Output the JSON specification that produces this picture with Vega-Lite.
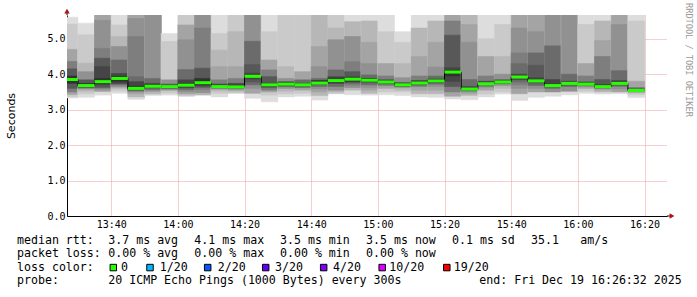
{
"$schema": "https://vega.github.io/schema/vega-lite/v6.json",
"padding": {"left": 5, "top": 3, "right": 0, "bottom": 0},
"spacing": 0,
"bounds": "flush",
"background": "#ffffff",
"datasets": {
"smoke": [
{"t":"2025-12-19T13:25:00","te":"2025-12-19T13:30:00","b":1,"lo":3.33,"hi":5.61},{"t":"2025-12-19T13:25:00","te":"2025-12-19T13:30:00","b":2,"lo":3.37,"hi":5.41},{"t":"2025-12-19T13:25:00","te":"2025-12-19T13:30:00","b":4,"lo":3.43,"hi":4.7},{"t":"2025-12-19T13:25:00","te":"2025-12-19T13:30:00","b":6,"lo":3.5,"hi":4.36},{"t":"2025-12-19T13:25:00","te":"2025-12-19T13:30:00","b":8,"lo":3.6,"hi":4.15},{"t":"2025-12-19T13:25:00","te":"2025-12-19T13:30:00","b":10,"lo":3.74,"hi":3.95},
{"t":"2025-12-19T13:30:00","te":"2025-12-19T13:35:00","b":1,"lo":3.35,"hi":5.44},{"t":"2025-12-19T13:30:00","te":"2025-12-19T13:35:00","b":2,"lo":3.45,"hi":5.11},{"t":"2025-12-19T13:30:00","te":"2025-12-19T13:35:00","b":3,"lo":3.52,"hi":4.31},{"t":"2025-12-19T13:30:00","te":"2025-12-19T13:35:00","b":5,"lo":3.58,"hi":4.07},{"t":"2025-12-19T13:30:00","te":"2025-12-19T13:35:00","b":8,"lo":3.62,"hi":3.84},{"t":"2025-12-19T13:30:00","te":"2025-12-19T13:35:00","b":10,"lo":3.65,"hi":3.74},
{"t":"2025-12-19T13:35:00","te":"2025-12-19T13:40:00","b":1,"lo":3.41,"hi":5.7},{"t":"2025-12-19T13:35:00","te":"2025-12-19T13:40:00","b":4,"lo":3.51,"hi":5.7},{"t":"2025-12-19T13:35:00","te":"2025-12-19T13:40:00","b":5,"lo":3.56,"hi":5.52},{"t":"2025-12-19T13:35:00","te":"2025-12-19T13:40:00","b":6,"lo":3.6,"hi":4.73},{"t":"2025-12-19T13:35:00","te":"2025-12-19T13:40:00","b":8,"lo":3.63,"hi":4.45},{"t":"2025-12-19T13:35:00","te":"2025-12-19T13:40:00","b":9,"lo":3.7,"hi":4.21},{"t":"2025-12-19T13:35:00","te":"2025-12-19T13:40:00","b":10,"lo":3.74,"hi":3.88},
{"t":"2025-12-19T13:40:00","te":"2025-12-19T13:45:00","b":1,"lo":3.46,"hi":5.7},{"t":"2025-12-19T13:40:00","te":"2025-12-19T13:45:00","b":2,"lo":3.53,"hi":5.39},{"t":"2025-12-19T13:40:00","te":"2025-12-19T13:45:00","b":3,"lo":3.6,"hi":5.06},{"t":"2025-12-19T13:40:00","te":"2025-12-19T13:45:00","b":5,"lo":3.64,"hi":4.78},{"t":"2025-12-19T13:40:00","te":"2025-12-19T13:45:00","b":7,"lo":3.7,"hi":4.4},{"t":"2025-12-19T13:40:00","te":"2025-12-19T13:45:00","b":9,"lo":3.74,"hi":4.02},{"t":"2025-12-19T13:40:00","te":"2025-12-19T13:45:00","b":10,"lo":3.8,"hi":3.93},
{"t":"2025-12-19T13:45:00","te":"2025-12-19T13:50:00","b":1,"lo":3.29,"hi":5.7},{"t":"2025-12-19T13:45:00","te":"2025-12-19T13:50:00","b":3,"lo":3.36,"hi":5.7},{"t":"2025-12-19T13:45:00","te":"2025-12-19T13:50:00","b":4,"lo":3.45,"hi":5.7},{"t":"2025-12-19T13:45:00","te":"2025-12-19T13:50:00","b":5,"lo":3.5,"hi":5.57},{"t":"2025-12-19T13:45:00","te":"2025-12-19T13:50:00","b":6,"lo":3.52,"hi":5.06},{"t":"2025-12-19T13:45:00","te":"2025-12-19T13:50:00","b":7,"lo":3.54,"hi":3.93},{"t":"2025-12-19T13:45:00","te":"2025-12-19T13:50:00","b":9,"lo":3.56,"hi":3.79},{"t":"2025-12-19T13:45:00","te":"2025-12-19T13:50:00","b":10,"lo":3.58,"hi":3.66},
{"t":"2025-12-19T13:50:00","te":"2025-12-19T13:55:00","b":1,"lo":3.4,"hi":5.7},{"t":"2025-12-19T13:50:00","te":"2025-12-19T13:55:00","b":3,"lo":3.44,"hi":5.7},{"t":"2025-12-19T13:50:00","te":"2025-12-19T13:55:00","b":5,"lo":3.52,"hi":5.7},{"t":"2025-12-19T13:50:00","te":"2025-12-19T13:55:00","b":7,"lo":3.57,"hi":3.88},{"t":"2025-12-19T13:50:00","te":"2025-12-19T13:55:00","b":9,"lo":3.62,"hi":3.74},{"t":"2025-12-19T13:50:00","te":"2025-12-19T13:55:00","b":10,"lo":3.64,"hi":3.7},
{"t":"2025-12-19T13:55:00","te":"2025-12-19T14:00:00","b":1,"lo":3.41,"hi":5.15},{"t":"2025-12-19T13:55:00","te":"2025-12-19T14:00:00","b":2,"lo":3.47,"hi":4.92},{"t":"2025-12-19T13:55:00","te":"2025-12-19T14:00:00","b":5,"lo":3.55,"hi":3.84},{"t":"2025-12-19T13:55:00","te":"2025-12-19T14:00:00","b":8,"lo":3.6,"hi":3.72},{"t":"2025-12-19T13:55:00","te":"2025-12-19T14:00:00","b":10,"lo":3.63,"hi":3.68},
{"t":"2025-12-19T14:00:00","te":"2025-12-19T14:05:00","b":2,"lo":3.38,"hi":5.7},{"t":"2025-12-19T14:00:00","te":"2025-12-19T14:05:00","b":4,"lo":3.44,"hi":5.39},{"t":"2025-12-19T14:00:00","te":"2025-12-19T14:05:00","b":5,"lo":3.5,"hi":4.97},{"t":"2025-12-19T14:00:00","te":"2025-12-19T14:05:00","b":7,"lo":3.56,"hi":4.13},{"t":"2025-12-19T14:00:00","te":"2025-12-19T14:05:00","b":9,"lo":3.62,"hi":3.84},{"t":"2025-12-19T14:00:00","te":"2025-12-19T14:05:00","b":10,"lo":3.66,"hi":3.74},
{"t":"2025-12-19T14:05:00","te":"2025-12-19T14:10:00","b":3,"lo":3.41,"hi":5.7},{"t":"2025-12-19T14:05:00","te":"2025-12-19T14:10:00","b":5,"lo":3.48,"hi":5.7},{"t":"2025-12-19T14:05:00","te":"2025-12-19T14:10:00","b":6,"lo":3.57,"hi":5.3},{"t":"2025-12-19T14:05:00","te":"2025-12-19T14:10:00","b":8,"lo":3.63,"hi":4.17},{"t":"2025-12-19T14:05:00","te":"2025-12-19T14:10:00","b":10,"lo":3.69,"hi":3.88},
{"t":"2025-12-19T14:10:00","te":"2025-12-19T14:15:00","b":1,"lo":3.36,"hi":5.7},{"t":"2025-12-19T14:10:00","te":"2025-12-19T14:15:00","b":2,"lo":3.46,"hi":5.15},{"t":"2025-12-19T14:10:00","te":"2025-12-19T14:15:00","b":3,"lo":3.53,"hi":4.68},{"t":"2025-12-19T14:10:00","te":"2025-12-19T14:15:00","b":4,"lo":3.57,"hi":4.21},{"t":"2025-12-19T14:10:00","te":"2025-12-19T14:15:00","b":6,"lo":3.6,"hi":3.84},{"t":"2025-12-19T14:10:00","te":"2025-12-19T14:15:00","b":9,"lo":3.62,"hi":3.72},
{"t":"2025-12-19T14:15:00","te":"2025-12-19T14:20:00","b":2,"lo":3.46,"hi":5.7},{"t":"2025-12-19T14:15:00","te":"2025-12-19T14:20:00","b":3,"lo":3.52,"hi":5.2},{"t":"2025-12-19T14:15:00","te":"2025-12-19T14:20:00","b":4,"lo":3.55,"hi":4.21},{"t":"2025-12-19T14:15:00","te":"2025-12-19T14:20:00","b":6,"lo":3.58,"hi":3.88},{"t":"2025-12-19T14:15:00","te":"2025-12-19T14:20:00","b":9,"lo":3.61,"hi":3.74},
{"t":"2025-12-19T14:20:00","te":"2025-12-19T14:25:00","b":1,"lo":3.32,"hi":5.7},{"t":"2025-12-19T14:20:00","te":"2025-12-19T14:25:00","b":4,"lo":3.46,"hi":5.7},{"t":"2025-12-19T14:20:00","te":"2025-12-19T14:25:00","b":5,"lo":3.6,"hi":5.7},{"t":"2025-12-19T14:20:00","te":"2025-12-19T14:25:00","b":7,"lo":3.7,"hi":4.93},{"t":"2025-12-19T14:20:00","te":"2025-12-19T14:25:00","b":8,"lo":3.78,"hi":4.27},{"t":"2025-12-19T14:20:00","te":"2025-12-19T14:25:00","b":9,"lo":3.86,"hi":4.03},
{"t":"2025-12-19T14:25:00","te":"2025-12-19T14:30:00","b":1,"lo":3.22,"hi":5.7},{"t":"2025-12-19T14:25:00","te":"2025-12-19T14:30:00","b":2,"lo":3.41,"hi":5.2},{"t":"2025-12-19T14:25:00","te":"2025-12-19T14:30:00","b":4,"lo":3.5,"hi":4.4},{"t":"2025-12-19T14:25:00","te":"2025-12-19T14:30:00","b":6,"lo":3.55,"hi":4.12},{"t":"2025-12-19T14:25:00","te":"2025-12-19T14:30:00","b":8,"lo":3.62,"hi":3.93},{"t":"2025-12-19T14:25:00","te":"2025-12-19T14:30:00","b":10,"lo":3.66,"hi":3.74},
{"t":"2025-12-19T14:30:00","te":"2025-12-19T14:35:00","b":1,"lo":3.36,"hi":5.7},{"t":"2025-12-19T14:30:00","te":"2025-12-19T14:35:00","b":2,"lo":3.44,"hi":5.7},{"t":"2025-12-19T14:30:00","te":"2025-12-19T14:35:00","b":3,"lo":3.52,"hi":4.21},{"t":"2025-12-19T14:30:00","te":"2025-12-19T14:35:00","b":5,"lo":3.6,"hi":3.88},{"t":"2025-12-19T14:30:00","te":"2025-12-19T14:35:00","b":8,"lo":3.66,"hi":3.79},{"t":"2025-12-19T14:30:00","te":"2025-12-19T14:35:00","b":10,"lo":3.69,"hi":3.76},
{"t":"2025-12-19T14:35:00","te":"2025-12-19T14:40:00","b":1,"lo":3.38,"hi":5.7},{"t":"2025-12-19T14:35:00","te":"2025-12-19T14:40:00","b":2,"lo":3.46,"hi":5.7},{"t":"2025-12-19T14:35:00","te":"2025-12-19T14:40:00","b":4,"lo":3.55,"hi":4.07},{"t":"2025-12-19T14:35:00","te":"2025-12-19T14:40:00","b":7,"lo":3.62,"hi":3.84},{"t":"2025-12-19T14:35:00","te":"2025-12-19T14:40:00","b":10,"lo":3.67,"hi":3.74},
{"t":"2025-12-19T14:40:00","te":"2025-12-19T14:45:00","b":1,"lo":3.27,"hi":5.7},{"t":"2025-12-19T14:40:00","te":"2025-12-19T14:45:00","b":3,"lo":3.4,"hi":5.7},{"t":"2025-12-19T14:40:00","te":"2025-12-19T14:45:00","b":4,"lo":3.5,"hi":4.78},{"t":"2025-12-19T14:40:00","te":"2025-12-19T14:45:00","b":5,"lo":3.58,"hi":4.21},{"t":"2025-12-19T14:40:00","te":"2025-12-19T14:45:00","b":7,"lo":3.65,"hi":3.88},{"t":"2025-12-19T14:40:00","te":"2025-12-19T14:45:00","b":10,"lo":3.72,"hi":3.82},
{"t":"2025-12-19T14:45:00","te":"2025-12-19T14:50:00","b":2,"lo":3.45,"hi":5.7},{"t":"2025-12-19T14:45:00","te":"2025-12-19T14:50:00","b":3,"lo":3.5,"hi":5.3},{"t":"2025-12-19T14:45:00","te":"2025-12-19T14:50:00","b":5,"lo":3.55,"hi":4.97},{"t":"2025-12-19T14:45:00","te":"2025-12-19T14:50:00","b":7,"lo":3.65,"hi":4.12},{"t":"2025-12-19T14:45:00","te":"2025-12-19T14:50:00","b":9,"lo":3.74,"hi":3.93},{"t":"2025-12-19T14:45:00","te":"2025-12-19T14:50:00","b":10,"lo":3.78,"hi":3.86},
{"t":"2025-12-19T14:50:00","te":"2025-12-19T14:55:00","b":1,"lo":3.42,"hi":5.7},{"t":"2025-12-19T14:50:00","te":"2025-12-19T14:55:00","b":3,"lo":3.55,"hi":5.48},{"t":"2025-12-19T14:50:00","te":"2025-12-19T14:55:00","b":5,"lo":3.62,"hi":5.06},{"t":"2025-12-19T14:50:00","te":"2025-12-19T14:55:00","b":6,"lo":3.69,"hi":4.35},{"t":"2025-12-19T14:50:00","te":"2025-12-19T14:55:00","b":8,"lo":3.75,"hi":4.07},{"t":"2025-12-19T14:50:00","te":"2025-12-19T14:55:00","b":10,"lo":3.8,"hi":3.92},
{"t":"2025-12-19T14:55:00","te":"2025-12-19T15:00:00","b":1,"lo":3.41,"hi":5.7},{"t":"2025-12-19T14:55:00","te":"2025-12-19T15:00:00","b":3,"lo":3.46,"hi":5.5},{"t":"2025-12-19T14:55:00","te":"2025-12-19T15:00:00","b":4,"lo":3.55,"hi":4.9},{"t":"2025-12-19T14:55:00","te":"2025-12-19T15:00:00","b":5,"lo":3.62,"hi":4.3},{"t":"2025-12-19T14:55:00","te":"2025-12-19T15:00:00","b":7,"lo":3.7,"hi":3.98},{"t":"2025-12-19T14:55:00","te":"2025-12-19T15:00:00","b":10,"lo":3.78,"hi":3.88},
{"t":"2025-12-19T15:00:00","te":"2025-12-19T15:05:00","b":1,"lo":3.42,"hi":5.7},{"t":"2025-12-19T15:00:00","te":"2025-12-19T15:05:00","b":2,"lo":3.5,"hi":5.2},{"t":"2025-12-19T15:00:00","te":"2025-12-19T15:05:00","b":4,"lo":3.6,"hi":4.3},{"t":"2025-12-19T15:00:00","te":"2025-12-19T15:05:00","b":6,"lo":3.68,"hi":3.95},{"t":"2025-12-19T15:00:00","te":"2025-12-19T15:05:00","b":9,"lo":3.73,"hi":3.84},
{"t":"2025-12-19T15:05:00","te":"2025-12-19T15:10:00","b":1,"lo":3.4,"hi":5.2},{"t":"2025-12-19T15:05:00","te":"2025-12-19T15:10:00","b":2,"lo":3.5,"hi":4.9},{"t":"2025-12-19T15:05:00","te":"2025-12-19T15:10:00","b":3,"lo":3.55,"hi":4.3},{"t":"2025-12-19T15:05:00","te":"2025-12-19T15:10:00","b":5,"lo":3.62,"hi":3.9},{"t":"2025-12-19T15:05:00","te":"2025-12-19T15:10:00","b":9,"lo":3.66,"hi":3.76},
{"t":"2025-12-19T15:10:00","te":"2025-12-19T15:15:00","b":1,"lo":3.36,"hi":5.7},{"t":"2025-12-19T15:10:00","te":"2025-12-19T15:15:00","b":3,"lo":3.45,"hi":5.3},{"t":"2025-12-19T15:10:00","te":"2025-12-19T15:15:00","b":4,"lo":3.55,"hi":4.5},{"t":"2025-12-19T15:10:00","te":"2025-12-19T15:15:00","b":6,"lo":3.65,"hi":3.95},{"t":"2025-12-19T15:10:00","te":"2025-12-19T15:15:00","b":9,"lo":3.7,"hi":3.82},
{"t":"2025-12-19T15:15:00","te":"2025-12-19T15:20:00","b":1,"lo":3.35,"hi":5.7},{"t":"2025-12-19T15:15:00","te":"2025-12-19T15:20:00","b":3,"lo":3.45,"hi":5.5},{"t":"2025-12-19T15:15:00","te":"2025-12-19T15:20:00","b":4,"lo":3.55,"hi":4.9},{"t":"2025-12-19T15:15:00","te":"2025-12-19T15:20:00","b":5,"lo":3.65,"hi":4.2},{"t":"2025-12-19T15:15:00","te":"2025-12-19T15:20:00","b":7,"lo":3.72,"hi":3.95},{"t":"2025-12-19T15:15:00","te":"2025-12-19T15:20:00","b":10,"lo":3.77,"hi":3.86},
{"t":"2025-12-19T15:20:00","te":"2025-12-19T15:25:00","b":1,"lo":3.3,"hi":5.7},{"t":"2025-12-19T15:20:00","te":"2025-12-19T15:25:00","b":4,"lo":3.38,"hi":5.7},{"t":"2025-12-19T15:20:00","te":"2025-12-19T15:25:00","b":6,"lo":3.5,"hi":5.5},{"t":"2025-12-19T15:20:00","te":"2025-12-19T15:25:00","b":8,"lo":3.65,"hi":5.1},{"t":"2025-12-19T15:20:00","te":"2025-12-19T15:25:00","b":9,"lo":3.8,"hi":4.18},{"t":"2025-12-19T15:20:00","te":"2025-12-19T15:25:00","b":10,"lo":3.95,"hi":4.1},
{"t":"2025-12-19T15:25:00","te":"2025-12-19T15:30:00","b":1,"lo":3.28,"hi":5.7},{"t":"2025-12-19T15:25:00","te":"2025-12-19T15:30:00","b":3,"lo":3.4,"hi":5.7},{"t":"2025-12-19T15:25:00","te":"2025-12-19T15:30:00","b":4,"lo":3.45,"hi":5.4},{"t":"2025-12-19T15:25:00","te":"2025-12-19T15:30:00","b":5,"lo":3.5,"hi":4.9},{"t":"2025-12-19T15:25:00","te":"2025-12-19T15:30:00","b":7,"lo":3.53,"hi":3.85},{"t":"2025-12-19T15:25:00","te":"2025-12-19T15:30:00","b":9,"lo":3.55,"hi":3.65},
{"t":"2025-12-19T15:30:00","te":"2025-12-19T15:35:00","b":1,"lo":3.36,"hi":5.7},{"t":"2025-12-19T15:30:00","te":"2025-12-19T15:35:00","b":2,"lo":3.44,"hi":5.0},{"t":"2025-12-19T15:30:00","te":"2025-12-19T15:35:00","b":4,"lo":3.55,"hi":4.5},{"t":"2025-12-19T15:30:00","te":"2025-12-19T15:35:00","b":6,"lo":3.64,"hi":3.95},{"t":"2025-12-19T15:30:00","te":"2025-12-19T15:35:00","b":9,"lo":3.7,"hi":3.8},
{"t":"2025-12-19T15:35:00","te":"2025-12-19T15:40:00","b":1,"lo":3.44,"hi":5.7},{"t":"2025-12-19T15:35:00","te":"2025-12-19T15:40:00","b":2,"lo":3.5,"hi":5.4},{"t":"2025-12-19T15:35:00","te":"2025-12-19T15:40:00","b":3,"lo":3.6,"hi":4.5},{"t":"2025-12-19T15:35:00","te":"2025-12-19T15:40:00","b":5,"lo":3.68,"hi":4.0},{"t":"2025-12-19T15:35:00","te":"2025-12-19T15:40:00","b":9,"lo":3.74,"hi":3.84},
{"t":"2025-12-19T15:40:00","te":"2025-12-19T15:45:00","b":1,"lo":3.26,"hi":5.7},{"t":"2025-12-19T15:40:00","te":"2025-12-19T15:45:00","b":4,"lo":3.45,"hi":5.7},{"t":"2025-12-19T15:40:00","te":"2025-12-19T15:45:00","b":5,"lo":3.6,"hi":5.3},{"t":"2025-12-19T15:40:00","te":"2025-12-19T15:45:00","b":6,"lo":3.7,"hi":4.6},{"t":"2025-12-19T15:40:00","te":"2025-12-19T15:45:00","b":7,"lo":3.78,"hi":4.3},{"t":"2025-12-19T15:40:00","te":"2025-12-19T15:45:00","b":9,"lo":3.85,"hi":4.0},
{"t":"2025-12-19T15:45:00","te":"2025-12-19T15:50:00","b":1,"lo":3.35,"hi":5.7},{"t":"2025-12-19T15:45:00","te":"2025-12-19T15:50:00","b":4,"lo":3.5,"hi":5.7},{"t":"2025-12-19T15:45:00","te":"2025-12-19T15:50:00","b":5,"lo":3.6,"hi":5.2},{"t":"2025-12-19T15:45:00","te":"2025-12-19T15:50:00","b":7,"lo":3.68,"hi":4.6},{"t":"2025-12-19T15:45:00","te":"2025-12-19T15:50:00","b":8,"lo":3.75,"hi":4.25},{"t":"2025-12-19T15:45:00","te":"2025-12-19T15:50:00","b":9,"lo":3.78,"hi":3.9},
{"t":"2025-12-19T15:50:00","te":"2025-12-19T15:55:00","b":1,"lo":3.38,"hi":5.7},{"t":"2025-12-19T15:50:00","te":"2025-12-19T15:55:00","b":5,"lo":3.5,"hi":5.7},{"t":"2025-12-19T15:50:00","te":"2025-12-19T15:55:00","b":7,"lo":3.6,"hi":4.8},{"t":"2025-12-19T15:50:00","te":"2025-12-19T15:55:00","b":9,"lo":3.65,"hi":3.85},{"t":"2025-12-19T15:50:00","te":"2025-12-19T15:55:00","b":10,"lo":3.66,"hi":3.72},
{"t":"2025-12-19T15:55:00","te":"2025-12-19T16:00:00","b":1,"lo":3.42,"hi":5.7},{"t":"2025-12-19T15:55:00","te":"2025-12-19T16:00:00","b":5,"lo":3.52,"hi":5.7},{"t":"2025-12-19T15:55:00","te":"2025-12-19T16:00:00","b":7,"lo":3.65,"hi":4.0},{"t":"2025-12-19T15:55:00","te":"2025-12-19T16:00:00","b":9,"lo":3.7,"hi":3.8},
{"t":"2025-12-19T16:00:00","te":"2025-12-19T16:05:00","b":1,"lo":3.46,"hi":5.7},{"t":"2025-12-19T16:00:00","te":"2025-12-19T16:05:00","b":2,"lo":3.52,"hi":5.4},{"t":"2025-12-19T16:00:00","te":"2025-12-19T16:05:00","b":4,"lo":3.6,"hi":4.3},{"t":"2025-12-19T16:00:00","te":"2025-12-19T16:05:00","b":6,"lo":3.66,"hi":3.95},{"t":"2025-12-19T16:00:00","te":"2025-12-19T16:05:00","b":9,"lo":3.7,"hi":3.78},
{"t":"2025-12-19T16:05:00","te":"2025-12-19T16:10:00","b":1,"lo":3.44,"hi":5.7},{"t":"2025-12-19T16:05:00","te":"2025-12-19T16:10:00","b":3,"lo":3.5,"hi":5.5},{"t":"2025-12-19T16:05:00","te":"2025-12-19T16:10:00","b":4,"lo":3.55,"hi":4.95},{"t":"2025-12-19T16:05:00","te":"2025-12-19T16:10:00","b":6,"lo":3.6,"hi":4.5},{"t":"2025-12-19T16:05:00","te":"2025-12-19T16:10:00","b":8,"lo":3.62,"hi":3.85},{"t":"2025-12-19T16:05:00","te":"2025-12-19T16:10:00","b":10,"lo":3.63,"hi":3.7},
{"t":"2025-12-19T16:10:00","te":"2025-12-19T16:15:00","b":1,"lo":3.45,"hi":5.7},{"t":"2025-12-19T16:10:00","te":"2025-12-19T16:15:00","b":4,"lo":3.5,"hi":5.7},{"t":"2025-12-19T16:10:00","te":"2025-12-19T16:15:00","b":5,"lo":3.58,"hi":5.4},{"t":"2025-12-19T16:10:00","te":"2025-12-19T16:15:00","b":7,"lo":3.66,"hi":4.1},{"t":"2025-12-19T16:10:00","te":"2025-12-19T16:15:00","b":9,"lo":3.7,"hi":3.82},
{"t":"2025-12-19T16:15:00","te":"2025-12-19T16:20:00","b":1,"lo":3.34,"hi":5.7},{"t":"2025-12-19T16:15:00","te":"2025-12-19T16:20:00","b":2,"lo":3.42,"hi":5.5},{"t":"2025-12-19T16:15:00","te":"2025-12-19T16:20:00","b":4,"lo":3.48,"hi":3.8},{"t":"2025-12-19T16:15:00","te":"2025-12-19T16:20:00","b":7,"lo":3.52,"hi":3.62}
],
"median": [
{"t":"2025-12-19T13:25:00","te":"2025-12-19T13:30:00","m":3.85,"loss":"0"},{"t":"2025-12-19T13:30:00","te":"2025-12-19T13:35:00","m":3.68,"loss":"0"},{"t":"2025-12-19T13:35:00","te":"2025-12-19T13:40:00","m":3.79,"loss":"0"},{"t":"2025-12-19T13:40:00","te":"2025-12-19T13:45:00","m":3.88,"loss":"0"},{"t":"2025-12-19T13:45:00","te":"2025-12-19T13:50:00","m":3.60,"loss":"0"},{"t":"2025-12-19T13:50:00","te":"2025-12-19T13:55:00","m":3.66,"loss":"0"},{"t":"2025-12-19T13:55:00","te":"2025-12-19T14:00:00","m":3.65,"loss":"0"},{"t":"2025-12-19T14:00:00","te":"2025-12-19T14:05:00","m":3.69,"loss":"0"},{"t":"2025-12-19T14:05:00","te":"2025-12-19T14:10:00","m":3.76,"loss":"0"},{"t":"2025-12-19T14:10:00","te":"2025-12-19T14:15:00","m":3.65,"loss":"0"},{"t":"2025-12-19T14:15:00","te":"2025-12-19T14:20:00","m":3.64,"loss":"0"},{"t":"2025-12-19T14:20:00","te":"2025-12-19T14:25:00","m":3.94,"loss":"0"},{"t":"2025-12-19T14:25:00","te":"2025-12-19T14:30:00","m":3.70,"loss":"0"},{"t":"2025-12-19T14:30:00","te":"2025-12-19T14:35:00","m":3.72,"loss":"0"},{"t":"2025-12-19T14:35:00","te":"2025-12-19T14:40:00","m":3.70,"loss":"0"},{"t":"2025-12-19T14:40:00","te":"2025-12-19T14:45:00","m":3.75,"loss":"0"},{"t":"2025-12-19T14:45:00","te":"2025-12-19T14:50:00","m":3.82,"loss":"0"},{"t":"2025-12-19T14:50:00","te":"2025-12-19T14:55:00","m":3.86,"loss":"0"},{"t":"2025-12-19T14:55:00","te":"2025-12-19T15:00:00","m":3.83,"loss":"0"},{"t":"2025-12-19T15:00:00","te":"2025-12-19T15:05:00","m":3.78,"loss":"0"},{"t":"2025-12-19T15:05:00","te":"2025-12-19T15:10:00","m":3.70,"loss":"0"},{"t":"2025-12-19T15:10:00","te":"2025-12-19T15:15:00","m":3.75,"loss":"0"},{"t":"2025-12-19T15:15:00","te":"2025-12-19T15:20:00","m":3.81,"loss":"0"},{"t":"2025-12-19T15:20:00","te":"2025-12-19T15:25:00","m":4.06,"loss":"0"},{"t":"2025-12-19T15:25:00","te":"2025-12-19T15:30:00","m":3.58,"loss":"0"},{"t":"2025-12-19T15:30:00","te":"2025-12-19T15:35:00","m":3.73,"loss":"0"},{"t":"2025-12-19T15:35:00","te":"2025-12-19T15:40:00","m":3.78,"loss":"0"},{"t":"2025-12-19T15:40:00","te":"2025-12-19T15:45:00","m":3.92,"loss":"0"},{"t":"2025-12-19T15:45:00","te":"2025-12-19T15:50:00","m":3.81,"loss":"0"},{"t":"2025-12-19T15:50:00","te":"2025-12-19T15:55:00","m":3.68,"loss":"0"},{"t":"2025-12-19T15:55:00","te":"2025-12-19T16:00:00","m":3.74,"loss":"0"},{"t":"2025-12-19T16:00:00","te":"2025-12-19T16:05:00","m":3.72,"loss":"0"},{"t":"2025-12-19T16:05:00","te":"2025-12-19T16:10:00","m":3.65,"loss":"0"},{"t":"2025-12-19T16:10:00","te":"2025-12-19T16:15:00","m":3.74,"loss":"0"},{"t":"2025-12-19T16:15:00","te":"2025-12-19T16:20:00","m":3.54,"loss":"0"}
],
"arrows": [
{"t":"2025-12-19T13:26:44","v":5.78,"dir":"up"},{"t":"2025-12-19T16:28:14","v":0,"dir":"right"}
],
"axisext": [
{"t":"2025-12-19T13:26:44","t2":"2025-12-19T13:26:44","v":5.67,"v2":5.74},{"t":"2025-12-19T16:26:44","t2":"2025-12-19T16:27:44","v":0,"v2":0}
],
"notes": [
{"line":0,"col":0,"txt":"median rtt:"},{"line":0,"col":13.04,"txt":"3.7 ms avg"},{"line":0,"col":25.33,"txt":"4.1 ms max"},{"line":0,"col":37.57,"txt":"3.5 ms min"},{"line":0,"col":49.86,"txt":"3.5 ms now"},{"line":0,"col":62.14,"txt":"0.1 ms sd"},{"line":0,"col":73.43,"txt":"35.1"},{"line":0,"col":80.47,"txt":"am/s"},
{"line":1,"col":0,"txt":"packet loss:"},{"line":1,"col":13.04,"txt":"0.00 % avg"},{"line":1,"col":25.33,"txt":"0.00 % max"},{"line":1,"col":37.57,"txt":"0.00 % min"},{"line":1,"col":49.86,"txt":"0.00 % now"},
{"line":2,"col":0,"txt":"loss color:"},{"line":2,"col":14.86,"txt":"0"},{"line":2,"col":20.39,"txt":"1/20"},{"line":2,"col":28.67,"txt":"2/20"},{"line":2,"col":36.86,"txt":"3/20"},{"line":2,"col":45.14,"txt":"4/20"},{"line":2,"col":53.19,"txt":"10/20"},{"line":2,"col":62.39,"txt":"19/20"},
{"line":3,"col":0,"txt":"probe:"},{"line":3,"col":13.04,"txt":"20 ICMP Echo Pings (1000 Bytes) every 300s"},{"line":3,"col":66.04,"txt":"end: Fri Dec 19 16:26:32 2025"}
],
"credit": [
{"line":-13.46,"col":96,"txt":"RRDTOOL / TOBI OETIKER"}
],
"losskey": [
{"line":2,"col":13.76,"loss":"0"},{"line":2,"col":19.0,"loss":"1/20"},{"line":2,"col":27.24,"loss":"2/20"},{"line":2,"col":35.53,"loss":"3/20"},{"line":2,"col":43.81,"loss":"4/20"},{"line":2,"col":52.17,"loss":"10/20"},{"line":2,"col":61.4,"loss":"19/20"}
]
},
"vconcat": [
{
"width": 600, "height": 201,
"layer": [
{
"data": {"name": "smoke"},
"mark": {"type": "bar", "strokeWidth": 0.6, "clip": true},
"encoding": {
"x": {"field": "t", "type": "temporal", "title": null,
"scale": {"domain": [{"year": 2025, "month": 12, "date": 19, "hours": 13, "minutes": 26, "seconds": 44}, {"year": 2025, "month": 12, "date": 19, "hours": 16, "minutes": 26, "seconds": 44}]},
"axis": {"format": "%H:%M",
"values": [{"year": 2025, "month": 12, "date": 19, "hours": 13, "minutes": 40}, {"year": 2025, "month": 12, "date": 19, "hours": 14, "minutes": 0}, {"year": 2025, "month": 12, "date": 19, "hours": 14, "minutes": 20}, {"year": 2025, "month": 12, "date": 19, "hours": 14, "minutes": 40}, {"year": 2025, "month": 12, "date": 19, "hours": 15, "minutes": 0}, {"year": 2025, "month": 12, "date": 19, "hours": 15, "minutes": 20}, {"year": 2025, "month": 12, "date": 19, "hours": 15, "minutes": 40}, {"year": 2025, "month": 12, "date": 19, "hours": 16, "minutes": 0}, {"year": 2025, "month": 12, "date": 19, "hours": 16, "minutes": 20}],
"grid": true, "gridDash": [1, 1], "gridColor": "#e8a0a0",
"ticks": false, "domainColor": "#000000",
"labelFont": "DejaVu Sans Mono", "labelFontSize": 10, "labelColor": "#000000", "labelPadding": 3}},
"x2": {"field": "te"},
"y": {"field": "lo", "type": "quantitative", "title": "Seconds",
"scale": {"domain": [0, 5.67], "nice": false, "zero": false},
"axis": {"values": [0, 1, 2, 3, 4, 5], "format": ".1f",
"grid": true, "gridDash": [1, 1], "gridColor": "#e8a0a0",
"ticks": false, "domainColor": "#000000",
"labelFont": "DejaVu Sans Mono", "labelFontSize": 10, "labelColor": "#000000",
"titleFont": "DejaVu Sans", "titleFontSize": 11, "titleFontWeight": "normal", "titleColor": "#000000", "titlePadding": 30}},
"y2": {"field": "hi"},
"fill": {"field": "b", "type": "ordinal", "scale": {"domain": [1,2,3,4,5,6,7,8,9,10], "range": ["#dddddd","#cacaca","#b7b7b7","#a4a4a4","#919191","#7e7e7e","#6b6b6b","#585858","#454545","#323232"]}, "legend": null},
"stroke": {"field": "b", "type": "ordinal", "scale": {"domain": [1,2,3,4,5,6,7,8,9,10], "range": ["#dddddd","#cacaca","#b7b7b7","#a4a4a4","#919191","#7e7e7e","#6b6b6b","#585858","#454545","#323232"]}, "legend": null}
}
},
{
"data": {"name": "median"},
"mark": {"type": "line", "interpolate": "step-after", "color": "#000000", "strokeWidth": 1, "clip": true},
"encoding": {
"x": {"field": "t", "type": "temporal", "title": null, "scale": {"domain": [{"year": 2025, "month": 12, "date": 19, "hours": 13, "minutes": 26, "seconds": 44}, {"year": 2025, "month": 12, "date": 19, "hours": 16, "minutes": 26, "seconds": 44}]}},
"y": {"field": "m", "type": "quantitative", "title": "Seconds", "scale": {"domain": [0, 5.67], "nice": false, "zero": false}}
}
},
{
"data": {"name": "median"},
"mark": {"type": "rule", "strokeWidth": 3, "clip": true},
"encoding": {
"x": {"field": "t", "type": "temporal", "title": null, "scale": {"domain": [{"year": 2025, "month": 12, "date": 19, "hours": 13, "minutes": 26, "seconds": 44}, {"year": 2025, "month": 12, "date": 19, "hours": 16, "minutes": 26, "seconds": 44}]}},
"x2": {"field": "te"},
"y": {"field": "m", "type": "quantitative", "title": "Seconds", "scale": {"domain": [0, 5.67], "nice": false, "zero": false}},
"color": {"field": "loss", "type": "nominal",
"scale": {"domain": ["0","1/20","2/20","3/20","4/20","10/20","19/20"], "range": ["#26ff00","#00b8ff","#0059ff","#5e00ff","#7e00ff","#dd00ff","#ff0000"]},
"legend": null}
}
},
{
"data": {"name": "axisext"},
"mark": {"type": "rule", "color": "#000000", "strokeWidth": 1},
"encoding": {
"x": {"field": "t", "type": "temporal", "title": null, "scale": {"domain": [{"year": 2025, "month": 12, "date": 19, "hours": 13, "minutes": 26, "seconds": 44}, {"year": 2025, "month": 12, "date": 19, "hours": 16, "minutes": 26, "seconds": 44}]}},
"x2": {"field": "t2"},
"y": {"field": "v", "type": "quantitative", "title": "Seconds", "scale": {"domain": [0, 5.67], "nice": false, "zero": false}},
"y2": {"field": "v2"}
}
},
{
"data": {"name": "arrows"},
"mark": {"type": "point", "filled": true, "size": 30, "color": "#b01010", "opacity": 1},
"encoding": {
"x": {"field": "t", "type": "temporal", "title": null, "scale": {"domain": [{"year": 2025, "month": 12, "date": 19, "hours": 13, "minutes": 26, "seconds": 44}, {"year": 2025, "month": 12, "date": 19, "hours": 16, "minutes": 26, "seconds": 44}]}},
"y": {"field": "v", "type": "quantitative", "title": "Seconds", "scale": {"domain": [0, 5.67], "nice": false, "zero": false}},
"shape": {"field": "dir", "type": "nominal", "scale": {"domain": ["up", "right"], "range": ["triangle-up", "triangle-right"]}, "legend": null}
}
}
]
},
{
"width": 600, "height": 80,
"layer": [
{
"data": {"name": "losskey"},
"mark": {"type": "point", "shape": "square", "filled": true, "size": 42, "stroke": "#000000", "strokeWidth": 1, "opacity": 1},
"encoding": {
"x": {"field": "col", "type": "quantitative", "scale": {"domain": [7.143, 92.857], "nice": false, "zero": false}, "axis": null},
"y": {"field": "line", "type": "quantitative", "scale": {"domain": [-1.839, 4.118], "nice": false, "zero": false, "reverse": true}, "axis": null},
"color": {"field": "loss", "type": "nominal", "legend": null}
}
},
{
"data": {"name": "notes"},
"mark": {"type": "text", "align": "left", "baseline": "middle", "font": "DejaVu Sans Mono", "fontSize": 11.6, "color": "#000000"},
"encoding": {
"x": {"field": "col", "type": "quantitative", "scale": {"domain": [7.143, 92.857], "nice": false, "zero": false}, "axis": null},
"y": {"field": "line", "type": "quantitative", "scale": {"domain": [-1.839, 4.118], "nice": false, "zero": false, "reverse": true}, "axis": null},
"text": {"field": "txt"}
}
},
{
"data": {"name": "credit"},
"mark": {"type": "text", "align": "center", "baseline": "middle", "angle": 90, "font": "DejaVu Sans Mono", "fontSize": 8.6, "color": "#9a9a9a"},
"encoding": {
"x": {"field": "col", "type": "quantitative", "scale": {"domain": [7.143, 92.857], "nice": false, "zero": false}, "axis": null},
"y": {"field": "line", "type": "quantitative", "scale": {"domain": [-1.839, 4.118], "nice": false, "zero": false, "reverse": true}, "axis": null},
"text": {"field": "txt"}
}
}
]
}
],
"config": {"view": {"stroke": null}}
}
